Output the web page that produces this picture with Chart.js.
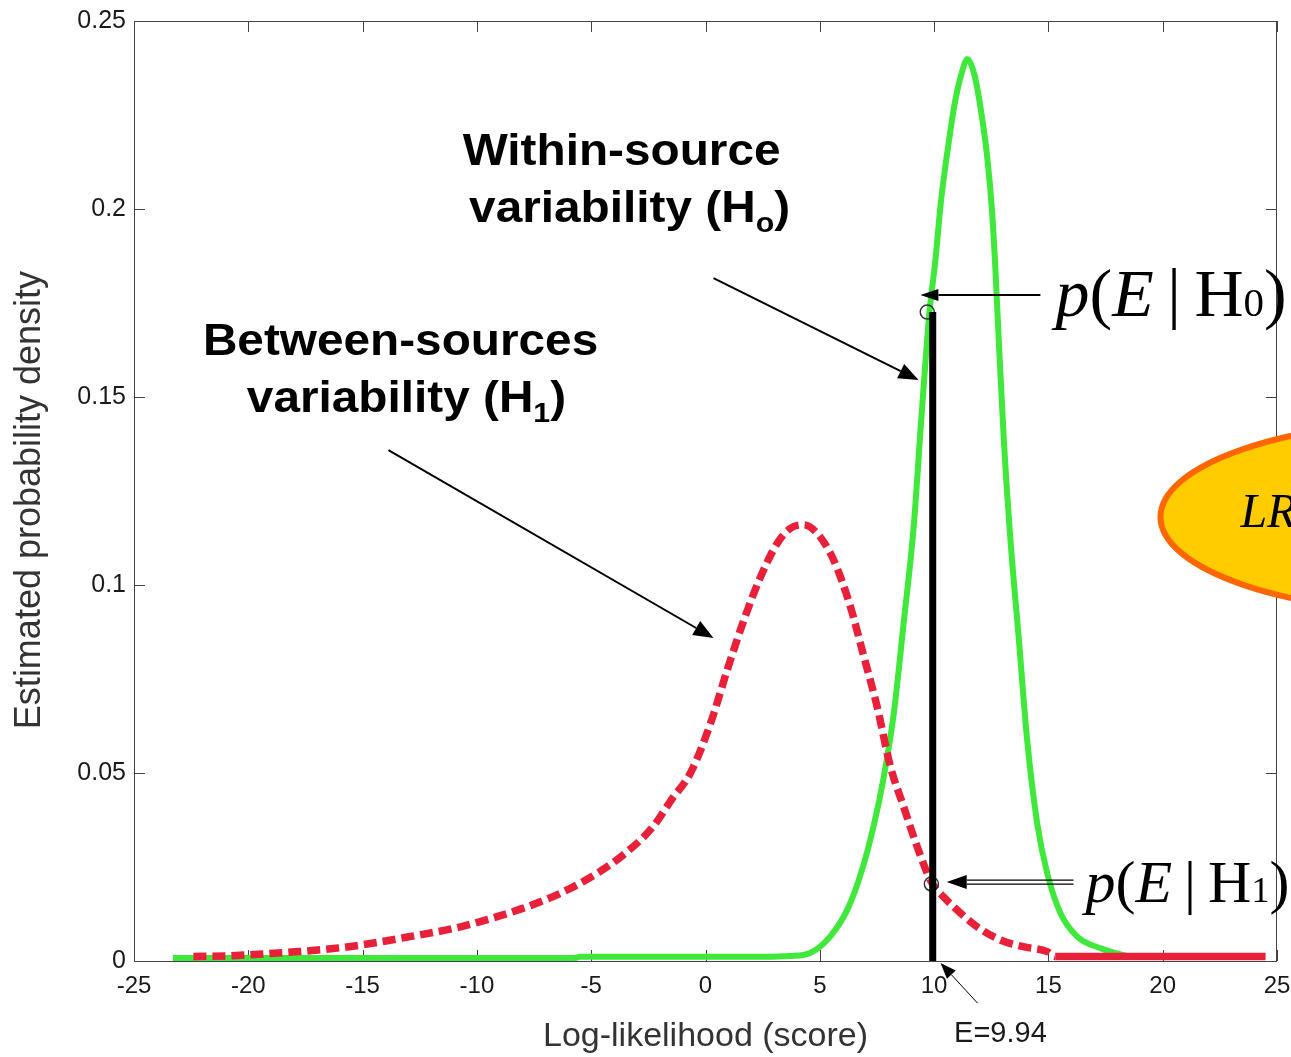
<!DOCTYPE html>
<html><head><meta charset="utf-8">
<script src="https://cdn.jsdelivr.net/npm/chart.js@4.4.1/dist/chart.umd.min.js"></script>
<style>html,body{margin:0;padding:0;background:#fff;}#wrap{width:1291px;height:1057px;position:relative;}</style>
</head><body><div id="wrap"><canvas id="c"></canvas></div>
<script>
// ---- tick values / labels ----
const xTickValues = [-25,-20,-15,-10,-5,0,5,10,15,20,25];
const xTickLabels = ['-25','-20','-15','-10','-5','0','5','10','15','20','25'];
const yTickValues = [0,0.05,0.1,0.15,0.2,0.25];
const yTickLabels = ['0','0.05','0.1','0.15','0.2','0.25'];

// ---- within-source density (H0), green ----
const withinX = [-23.3,-18,-12,-5.7,-5.5,0,2.5,3.7,4.6,5.45,6.2,6.8,7.36,7.8,8.24,8.67,9.1,9.45,9.8,10.05,10.3,10.6,10.9,11.2,11.45,11.75,12.03,12.32,12.54,12.69,12.83,13.05,13.34,13.71,14.07,14.51,14.95,15.53,16.26,17.28,18.6];
const withinY = [0.0008,0.0008,0.0008,0.0008,0.0011,0.0011,0.0011,0.0013,0.0022,0.0065,0.0136,0.0233,0.036,0.049,0.066,0.09,0.115,0.145,0.1727,0.186,0.202,0.216,0.228,0.236,0.2398,0.236,0.227,0.214,0.199,0.183,0.165,0.1386,0.112,0.0854,0.0588,0.0366,0.0233,0.0127,0.0065,0.0034,0.001];

// ---- between-sources density (H1), red dashed ----
const betweenX = [-22.4,-20.8,-19.3,-17.8,-16.3,-14.8,-13.1,-11.0,-9.5,-8.0,-6.5,-5.1,-3.6,-2.3,-1.5,-0.66,0.22,0.95,1.68,2.41,3.14,3.72,4.3,4.89,5.61,6.34,6.93,7.51,8.09,8.67,9.26,9.88,10.42,10.86,11.88,12.9,13.9,14.95,15.3,24.5];
const betweenY = [0.0012,0.0014,0.0019,0.0025,0.0033,0.0045,0.0063,0.0087,0.0111,0.014,0.0176,0.022,0.0282,0.0357,0.0428,0.05,0.0632,0.0774,0.0907,0.1022,0.1111,0.1151,0.116,0.1137,0.1066,0.0942,0.0809,0.0676,0.0517,0.041,0.0304,0.021,0.017,0.0144,0.0091,0.0056,0.0038,0.0025,0.0012,0.0012];

// ---- evidence E = 9.94 ----
const evidenceX = [9.94, 9.94];
const evidenceY = [0, 0.1726];
const markerX = [9.7, 9.88];
const markerY = [0.1726, 0.0205];

const pts = (xs, ys) => xs.map((x, i) => ({x, y: ys[i]}));

// annotation anchors (data units)
const notes = {
  within1: [-3.67, 0.2117], within2: [-3.32, 0.1965],
  between1: [-13.34, 0.1612], between2: [-13.08, 0.146],
  arrowWithin: [[0.35, 0.1816], [9.32, 0.1545]],
  arrowBetween: [[-13.87, 0.1359], [0.35, 0.0859]],
  arrowH0: [[14.65, 0.1771], [9.4, 0.1771]],
  arrowH1: [[16.1, 0.021], [10.55, 0.021]],
  arrowE: [[11.9, -0.0112], [10.28, -0.0005]],
  textH0: [15.31, 0.1715], textH1: [16.62, 0.0157],
  textE: [12.9, -0.0215],
  ellipse: [32.59, 0.1181], lrText: [23.4, 0.1155],
  yTitle: [-29.53, 0.1226]
};

const SANS = '"Liberation Sans", Arial, Helvetica, sans-serif';
const SERIF = '"Liberation Serif", "Times New Roman", serif';

const decor = {
  id: 'decor',
  beforeDatasetsDraw(chart) {
    const {ctx, chartArea: a, scales: {x, y}} = chart;
    ctx.save();
    ctx.strokeStyle = '#444'; ctx.lineWidth = 1;
    ctx.strokeRect(a.left + 0.5, a.top + 0.5, a.right - a.left - 1, a.bottom - a.top);
    const L = 11;
    ctx.beginPath();
    xTickValues.forEach(v => { const px = Math.round(x.getPixelForValue(v)) + 0.5;
      ctx.moveTo(px, a.bottom); ctx.lineTo(px, a.bottom - L);
      ctx.moveTo(px, a.top); ctx.lineTo(px, a.top + L); });
    yTickValues.forEach(v => { const py = Math.round(y.getPixelForValue(v)) + 0.5;
      ctx.moveTo(a.left, py); ctx.lineTo(a.left + L, py);
      ctx.moveTo(a.right, py); ctx.lineTo(a.right - L, py); });
    ctx.stroke();
    ctx.restore();
  },
  afterDraw(chart) {
    const {ctx, scales: {x, y}} = chart;
    const P = ([dx, dy]) => [x.getPixelForValue(dx), y.getPixelForValue(dy)];
    ctx.save();
    ctx.fillStyle = '#000'; ctx.strokeStyle = '#000';

    // y axis title
    { const [tx, ty] = P(notes.yTitle);
      ctx.save(); ctx.translate(tx, ty); ctx.rotate(-Math.PI / 2);
      ctx.font = '36px ' + SANS; ctx.fillStyle = '#333'; ctx.textAlign = 'center'; ctx.textBaseline = 'middle';
      ctx.fillText('Estimated probability density', 0, 0); ctx.restore(); }

    function arrow(seg, lw, head, hw, dbl) {
      const [x1, y1] = P(seg[0]), [x2, y2] = P(seg[1]);
      const ang = Math.atan2(y2 - y1, x2 - x1);
      const bx = x2 - head * Math.cos(ang), by = y2 - head * Math.sin(ang);
      ctx.lineWidth = lw;
      ctx.beginPath();
      if (dbl) {
        const nx = -Math.sin(ang) * 2, ny = Math.cos(ang) * 2;
        ctx.moveTo(x1 + nx, y1 + ny); ctx.lineTo(bx + nx, by + ny);
        ctx.moveTo(x1 - nx, y1 - ny); ctx.lineTo(bx - nx, by - ny);
      } else { ctx.moveTo(x1, y1); ctx.lineTo(bx, by); }
      ctx.stroke();
      ctx.beginPath();
      ctx.moveTo(x2, y2);
      ctx.lineTo(bx - hw * Math.sin(ang), by + hw * Math.cos(ang));
      ctx.lineTo(bx + hw * Math.sin(ang), by - hw * Math.cos(ang));
      ctx.closePath(); ctx.fill();
    }
    arrow(notes.arrowWithin, 2, 20, 8);
    arrow(notes.arrowBetween, 2, 20, 8);
    arrow(notes.arrowH0, 2, 18, 6);
    arrow(notes.arrowH1, 1.3, 20, 7, true);
    arrow(notes.arrowE, 1, 16, 6);

    // bold labels
    function boldLabel(anchor, main, sub, tail) {
      const [cx, by] = P(anchor);
      const big = 'bold 44px ' + SANS, small = 'bold 28px ' + SANS;
      ctx.font = big; const w1 = ctx.measureText(main).width;
      let w2 = 0, w3 = 0;
      if (sub) { ctx.font = small; w2 = ctx.measureText(sub).width; ctx.font = big; w3 = ctx.measureText(tail).width; }
      const sx = 1.085, total = w1 + w2 + w3;
      ctx.save(); ctx.translate(cx, by); ctx.scale(sx, 1);
      ctx.textBaseline = 'alphabetic'; ctx.textAlign = 'left';
      let cur = -total / 2;
      ctx.font = big; ctx.fillText(main, cur, 0); cur += w1;
      if (sub) { ctx.font = small; ctx.fillText(sub, cur, 10); cur += w2; ctx.font = big; ctx.fillText(tail, cur, 0); }
      ctx.restore();
    }
    boldLabel(notes.within1, 'Within-source');
    boldLabel(notes.within2, 'variability (H', 'o', ')');
    boldLabel(notes.between1, 'Between-sources');
    boldLabel(notes.between2, 'variability (H', '1', ')');

    // math labels
    function mathLabel(anchor, idx, size) {
      let [cx, by] = P(anchor);
      const sub = Math.round(size * 0.6);
      const parts = [['p', 'italic ' + size + 'px ' + SERIF], ['(', size + 'px ' + SERIF], ['E', 'italic ' + size + 'px ' + SERIF],
        ['\u2009|\u2009', size + 'px ' + SERIF], ['H', size + 'px ' + SERIF], [idx, sub + 'px ' + SERIF], [')', size + 'px ' + SERIF]];
      ctx.textBaseline = 'alphabetic'; ctx.textAlign = 'left';
      parts.forEach(([t, f]) => { ctx.font = f; ctx.fillText(t, cx, by); cx += ctx.measureText(t).width; });
    }
    mathLabel(notes.textH0, '0', 68);
    mathLabel(notes.textH1, '1', 60);

    // E label
    { const [cx, by] = P(notes.textE);
      ctx.font = '29px ' + SANS; ctx.fillStyle = '#1a1a1a'; ctx.textAlign = 'center'; ctx.textBaseline = 'alphabetic';
      ctx.fillText('E=9.94', cx, by); }

    // LR ellipse
    { const [ex, ey] = P(notes.ellipse);
      ctx.beginPath(); ctx.ellipse(ex, ey, 290, 97, 0, 0, Math.PI * 2);
      ctx.fillStyle = '#ffcc00'; ctx.fill();
      ctx.lineWidth = 6; ctx.strokeStyle = '#ff6600'; ctx.stroke();
      const [tx, ty] = P(notes.lrText);
      ctx.fillStyle = '#000'; ctx.font = 'italic 48px ' + SERIF; ctx.textAlign = 'left';
      ctx.fillText('LR', tx, ty); }
    ctx.restore();
  }
};

new Chart(document.getElementById('c'), {
  type: 'scatter',
  data: { datasets: [
    { label: 'E', data: pts(evidenceX, evidenceY), showLine: true, borderColor: '#000', borderWidth: 7, pointRadius: 0, borderCapStyle: 'butt' },
    { label: 'p(E|H)', data: pts(markerX, markerY), showLine: false, pointStyle: 'circle', pointRadius: 7, borderColor: '#333', borderWidth: 1.5, backgroundColor: 'rgba(0,0,0,0)' },
    { label: 'Between-sources', data: pts(betweenX, betweenY), showLine: true, borderColor: '#e8203a', borderWidth: 7.5, borderDash: [13, 6], borderCapStyle: 'butt', pointRadius: 0, cubicInterpolationMode: 'monotone',
      segment: { borderDash: c => c.p0.parsed.x >= 15.2 ? [] : [13, 6] } },
    { label: 'Within-source', data: pts(withinX, withinY), showLine: true, borderColor: '#3fe83a', borderWidth: 6, pointRadius: 0, cubicInterpolationMode: 'monotone' }
  ]},
  options: {
    responsive: true, maintainAspectRatio: false, animation: false,
    layout: { padding: { top: 21, right: 14, left: 0, bottom: 0 } },
    plugins: { legend: { display: false }, tooltip: { enabled: false } },
    scales: {
      x: { type: 'linear', min: -25, max: 25,
        afterFit: s => { s.height = 96; s.paddingLeft = 0; s.paddingRight = 0; },
        afterBuildTicks: s => { s.ticks = xTickValues.map(v => ({ value: v })); },
        grid: { display: false, drawTicks: false }, border: { display: false },
        ticks: { autoSkip: false, maxRotation: 0, padding: 11, color: '#1a1a1a', font: { family: SANS, size: 24 },
          callback: v => { const k = xTickValues.findIndex(t => Math.abs(t - v) < 1e-9); return k >= 0 ? xTickLabels[k] : ''; } },
        title: { display: true, text: 'Log-likelihood (score)', color: '#333', font: { family: SANS, size: 34 }, padding: { top: 0, bottom: 0 } } },
      y: { type: 'linear', min: 0, max: 0.25,
        afterFit: s => { s.width = 134; s.paddingTop = 0; s.paddingBottom = 0; },
        afterBuildTicks: s => { s.ticks = yTickValues.map(v => ({ value: v })); },
        grid: { display: false, drawTicks: false }, border: { display: false },
        ticks: { autoSkip: false, padding: 8, color: '#1a1a1a', font: { family: SANS, size: 25 },
          callback: v => { const k = yTickValues.findIndex(t => Math.abs(t - v) < 1e-9); return k >= 0 ? yTickLabels[k] : ''; } },
        title: { display: false } }
    }
  },
  plugins: [decor]
});
</script></body></html>
